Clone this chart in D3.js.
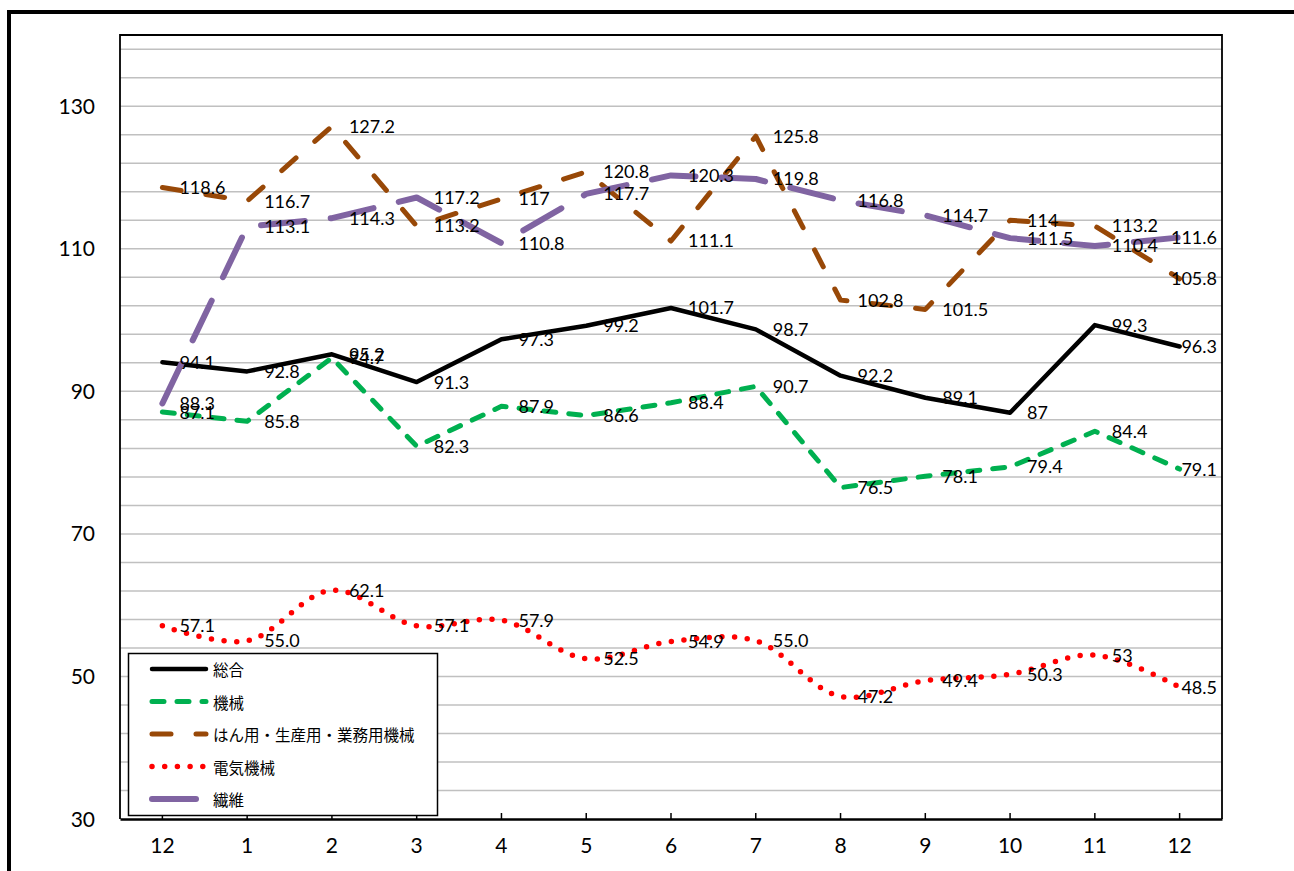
<html>
<head>
  <meta charset="utf-8">
  <script src="https://d3js.org/d3.v7.min.js"></script>
  <style>
  body { margin: 0; background: white; }
  .grid { stroke: #c0c0c0; stroke-width: 1.5px; }
  .ytick { font-family: Lato, "Liberation Sans", sans-serif; font-size: 21px; fill: black; }
  .xtick { font-family: Lato, "Liberation Sans", sans-serif; font-size: 21px; fill: black; }
  .lbl { font-family: Lato, "Liberation Sans", sans-serif; font-size: 18px; fill: black; }
  .legtext { font-family: "Noto Sans CJK JP", sans-serif; font-size: 15.5px; fill: black; }
  </style>
</head>
<body>
  <svg id="chart" width="1294" height="871"></svg>
  <script>
// months on the x axis
const months = ["12", "1", "2", "3", "4", "5", "6", "7", "8", "9", "10", "11", "12"];
const yTicks = [30, 50, 70, 90, 110, 130];

// values as printed on the chart
const sogo   = ["94.1", "92.8", "95.2", "91.3", "97.3", "99.2", "101.7", "98.7", "92.2", "89.1", "87", "99.3", "96.3"];
const kikai  = ["87.1", "85.8", "94.7", "82.3", "87.9", "86.6", "88.4", "90.7", "76.5", "78.1", "79.4", "84.4", "79.1"];
const hanyo  = ["118.6", "116.7", "127.2", "113.2", "117", "120.8", "111.1", "125.8", "102.8", "101.5", "114", "113.2", "105.8"];
const denki  = ["57.1", "55.0", "62.1", "57.1", "57.9", "52.5", "54.9", "55.0", "47.2", "49.4", "50.3", "53", "48.5"];
const seni   = ["88.3", "113.1", "114.3", "117.2", "110.8", "117.7", "120.3", "119.8", "116.8", "114.7", "111.5", "110.4", "111.6"];

const seriesNames = ["総合", "機械", "はん用・生産用・業務用機械", "電気機械", "繊維"];

const series = [
  { name: seriesNames[0], vals: sogo,  color: "#000000", width: 4.5, dash: null,     curve: d3.curveLinear },
  { name: seriesNames[1], vals: kikai, color: "#00b050", width: 5,   dash: "12 13",  curve: d3.curveLinear },
  { name: seriesNames[2], vals: hanyo, color: "#984807", width: 5,   dash: "19 25",  curve: d3.curveLinear },
  { name: seriesNames[3], vals: denki, color: "#ff0000", width: 5.5, dash: "0 12.7", curve: d3.curveCatmullRom },
  { name: seriesNames[4], vals: seni,  color: "#8064a2", width: 6,   dash: "44 26",  curve: d3.curveLinear }
];

const svg = d3.select("#chart");

// outer frame
svg.append("rect")
  .attr("x", 9).attr("y", 12)
  .attr("width", 1400).attr("height", 1000)
  .attr("fill", "white")
  .attr("stroke", "black")
  .attr("stroke-width", 4);

const plot = { left: 120, top: 35, right: 1222, bottom: 819 };

const x = d3.scaleBand()
  .domain(d3.range(months.length))
  .range([plot.left, plot.right]);
const xc = i => x(i) + x.bandwidth() / 2;

const y = d3.scaleLinear()
  .domain([30, 140])
  .range([plot.bottom, plot.top]);

// gridlines every 4
svg.append("g").selectAll("line")
  .data(d3.range(34, 141, 4))
  .enter().append("line")
  .attr("class", "grid")
  .attr("x1", plot.left).attr("x2", plot.right)
  .attr("y1", d => y(d)).attr("y2", d => y(d));

// plot border (left, top, right)
svg.append("path")
  .attr("d", `M${plot.left},${plot.bottom}V${plot.top}H${plot.right}V${plot.bottom}`)
  .attr("fill", "none")
  .attr("stroke", "black")
  .attr("stroke-width", 1.8);

// y labels
svg.append("g").selectAll("text")
  .data(yTicks)
  .enter().append("text")
  .attr("class", "ytick")
  .attr("x", 95)
  .attr("y", d => y(d))
  .attr("dy", "0.36em")
  .attr("text-anchor", "end")
  .text(d => d);

// x axis
const xAxis = d3.axisBottom(x)
  .tickSize(-6)
  .tickSizeOuter(0)
  .tickFormat(i => months[i]);
const gx = svg.append("g")
  .attr("transform", `translate(0,${plot.bottom})`)
  .call(xAxis);
gx.select(".domain").attr("stroke", "black").attr("stroke-width", 2.5);
gx.selectAll(".tick line").attr("stroke", "black").attr("stroke-width", 1.5);
gx.selectAll(".tick text")
  .attr("class", "xtick")
  .attr("y", 26)
  .attr("dy", "0.36em")
  .attr("font-family", null)
  .attr("font-size", null);

// lines
series.forEach(s => {
  const line = d3.line()
    .x((d, i) => xc(i))
    .y(d => y(+d))
    .curve(s.curve);
  svg.append("path")
    .datum(s.vals)
    .attr("fill", "none")
    .attr("stroke", s.color)
    .attr("stroke-width", s.width)
    .attr("stroke-linecap", "round")
    .attr("stroke-linejoin", "round")
    .attr("stroke-dasharray", s.dash)
    .attr("d", line);
});

// data labels, kept inside the plot area like excel does
series.forEach(s => {
  svg.append("g").selectAll("text")
    .data(s.vals)
    .enter().append("text")
    .attr("class", "lbl")
    .attr("x", (d, i) => xc(i) + 17)
    .attr("y", d => y(+d))
    .attr("dy", "0.36em")
    .text(d => d)
    .each(function() {
      const t = d3.select(this);
      const w = this.getComputedTextLength();
      const x0 = +t.attr("x");
      if (x0 + w > plot.right - 5) t.attr("x", plot.right - 5 - w);
    });
});

// legend
const leg = svg.append("g");
leg.append("rect")
  .attr("x", 128.5).attr("y", 653.5)
  .attr("width", 309).attr("height", 162)
  .attr("fill", "white")
  .attr("stroke", "black")
  .attr("stroke-width", 1.5);

series.forEach((s, i) => {
  const ly = 669 + i * 32.5;
  leg.append("line")
    .attr("x1", 152).attr("x2", 206)
    .attr("y1", ly).attr("y2", ly)
    .attr("stroke", s.color)
    .attr("stroke-width", s.width)
    .attr("stroke-linecap", "round")
    .attr("stroke-dasharray", s.dash);
  leg.append("text")
    .attr("class", "legtext")
    .attr("x", 213)
    .attr("y", ly)
    .attr("dominant-baseline", "central")
    .text(s.name);
});
  </script>
</body>
</html>
